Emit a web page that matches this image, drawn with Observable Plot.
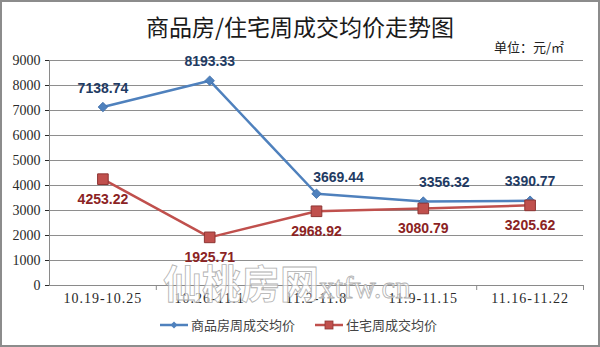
<!DOCTYPE html>
<html><head><meta charset="utf-8">
<script src="https://cdn.jsdelivr.net/npm/d3@7"></script>
<script src="https://cdn.jsdelivr.net/npm/@observablehq/plot@0.6"></script>
<style>
html,body{margin:0;padding:0;background:#fff;}
#wrap{position:relative;width:600px;height:347px;overflow:hidden;background:#fff;}
#chart{position:absolute;left:0;top:0;}
#title{position:absolute;left:0;width:600px;top:11px;text-align:center;font-family:"Noto Sans CJK SC";font-size:23px;color:#1a1a1a;line-height:30px;}
#unit{position:absolute;left:494px;top:38px;font-family:"Noto Sans CJK SC";font-size:13px;color:#222;line-height:18px;}
#legend{position:absolute;left:160px;top:316px;display:flex;align-items:center;font-family:"Noto Sans CJK SC";font-size:13px;color:#444;line-height:18px;}
#legend .item{display:flex;align-items:center;margin-right:20px;}
#legend svg{margin-right:3px;}
#wm{position:absolute;left:163px;top:256px;font-family:"Noto Sans CJK SC";font-size:39px;font-weight:bold;color:rgba(255,255,255,0.6);-webkit-text-stroke:0.8px #b0b0b0;line-height:50px;white-space:nowrap;}
#wm span{font-family:"Liberation Serif";font-size:31px;font-weight:normal;}
#border{position:absolute;left:0;top:0;width:600px;height:347px;box-sizing:border-box;border:2px solid #8c8c8c;pointer-events:none;}
#chart g[aria-label="x-axis tick label"] text{letter-spacing:1px;}
</style>
</head><body>
<div id="wrap">
  <div id="chart"></div>
  <div id="title">商品房/住宅周成交均价走势图</div>
  <div id="unit">单位：元/㎡</div>
  <div id="wm">仙桃房网<span>xtfw.cn</span></div>
  <div id="legend"></div>
  <div id="border"></div>
</div>
<script>
const categories = ["10.19-10.25", "10.26-11.1", "11.2-11.8", "11.9-11.15", "11.16-11.22"];
const commercial = [7138.74, 8193.33, 3669.44, 3356.32, 3390.77];
const residential = [4253.22, 1925.71, 2968.92, 3080.79, 3205.62];
const seriesNames = ["商品房周成交均价", "住宅周成交均价"];
const yTicks = [0, 1000, 2000, 3000, 4000, 5000, 6000, 7000, 8000, 9000];

const blue = "#4F81BD", red = "#C0504D";
const comm = categories.map((c, i) => ({i, cat: c, v: commercial[i]}));
const resi = categories.map((c, i) => ({i, cat: c, v: residential[i]}));
const idx = categories.map((c, i) => i);
const bounds = idx.map(i => i + 0.5);
const fmt = d => d.v.toFixed(2);
const labelFont = {fontFamily: "Liberation Sans, Arial, sans-serif", fontWeight: "bold", fontSize: 14};

const chart = Plot.plot({
  width: 600, height: 347,
  marginTop: 60, marginBottom: 62, marginLeft: 49, marginRight: 17,
  style: {background: "transparent", overflow: "visible"},
  x: {type: "linear", domain: [-0.5, categories.length - 0.5], label: null},
  y: {domain: [0, 9000], label: null},
  marks: [
    Plot.gridY(yTicks, {stroke: "#8e8e8e", strokeOpacity: 1, strokeWidth: 1}),
    Plot.ruleX([-0.5], {stroke: "#8a8a8a"}),
    Plot.ruleY([0], {stroke: "#8a8a8a"}),
    Plot.axisY(yTicks, {tickSize: 4, tickPadding: 5, tickFormat: d => String(d), color: "#2a2a2a", fontFamily: "Liberation Serif, serif", fontSize: 14, label: null}),
    Plot.axisX(bounds, {tickSize: 5, tickFormat: () => "", stroke: "#8a8a8a", label: null}),
    Plot.axisX(idx, {tickSize: 0, tickPadding: 8, tickFormat: i => categories[i], color: "#2a2a2a", fontFamily: "Liberation Serif, serif", fontSize: 14, label: null}),
    Plot.line(comm, {x: "i", y: "v", stroke: blue, strokeWidth: 2.5}),
    Plot.line(resi, {x: "i", y: "v", stroke: red, strokeWidth: 2.5}),
    Plot.dot(comm, {x: "i", y: "v", symbol: "diamond2", r: 4.3, fill: blue, stroke: "#3D6DA8", strokeWidth: 0.8}),
    Plot.dot(resi, {x: "i", y: "v", symbol: "square", r: 6, fill: red, stroke: "#8E3533", strokeWidth: 1}),
    Plot.text(comm, {filter: d => d.i !== 2 && d.i !== 3, x: "i", y: "v", text: fmt, dy: -19, fill: "#1F3B63", ...labelFont}),
    Plot.text(comm, {filter: d => d.i === 2, x: "i", y: "v", text: fmt, dy: -16, dx: 22, fill: "#1F3B63", ...labelFont}),
    Plot.text(comm, {filter: d => d.i === 3, x: "i", y: "v", text: fmt, dy: -19, dx: 21, fill: "#1F3B63", ...labelFont}),
    Plot.text(resi, {x: "i", y: "v", text: fmt, dy: 20, fill: "#8B2323", ...labelFont})
  ]
});
document.getElementById("chart").appendChild(chart);

// legend
const legend = document.getElementById("legend");
[[seriesNames[0], blue, "diamond"], [seriesNames[1], red, "square"]].forEach(([name, col, sym]) => {
  const item = document.createElement("div");
  item.className = "item";
  const marker = sym === "diamond"
    ? `<path d="M14,2.5 L17.5,6 L14,9.5 L10.5,6 Z" fill="${col}"/>`
    : `<rect x="10" y="2" width="8" height="8" fill="${col}" stroke="#8E3533" stroke-width="0.8"/>`;
  item.innerHTML = `<svg width="28" height="12"><line x1="0" y1="6" x2="28" y2="6" stroke="${col}" stroke-width="2.5"/>${marker}</svg><span>${name}</span>`;
  legend.appendChild(item);
});
</script>
</body></html>
